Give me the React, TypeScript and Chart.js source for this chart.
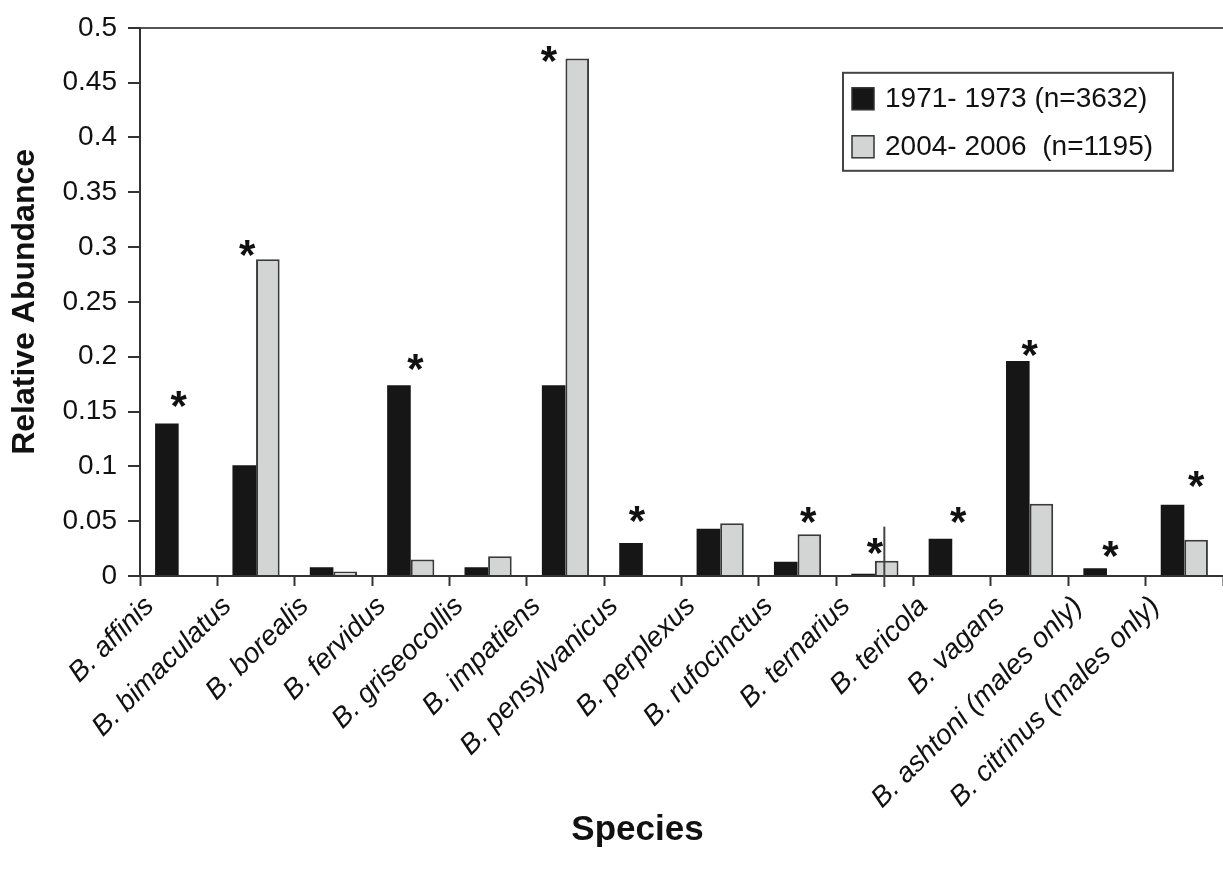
import React, { useEffect, useRef } from "react";
import { Chart, registerables } from "chart.js";

Chart.register(...registerables);

const FONT = '"Liberation Sans", Arial, Helvetica, sans-serif';

const species = [
  "B. affinis",
  "B. bimaculatus",
  "B. borealis",
  "B. fervidus",
  "B. griseocollis",
  "B. impatiens",
  "B. pensylvanicus",
  "B. perplexus",
  "B. rufocinctus",
  "B. ternarius",
  "B. tericola",
  "B. vagans",
  "B. ashtoni (males only)",
  "B. citrinus (males only)",
];

const seriesLabels = ["1971- 1973 (n=3632)", "2004- 2006  (n=1195)"];

const abundance1971 = [0.139, 0.101, 0.008, 0.174, 0.008, 0.174, 0.03, 0.043, 0.013, 0.002, 0.034, 0.196, 0.007, 0.065];
const abundance2004 = [0, 0.289, 0.004, 0.015, 0.018, 0.472, 0, 0.048, 0.038, 0.014, 0, 0.066, 0, 0.033];

// significance asterisks: level (in abundance units) and horizontal shift in half-bar units
const starLevel = [0.164, 0.302, null, 0.1975, null, 0.479, 0.059, null, 0.058, 0.03, 0.058, 0.211, 0.027, 0.0915];
const starShift = [0, -0.75, 0, 0.4, 0, -1.4, -0.5, 0, 0.9, 0, 0.5, 0, 0.3, 1];

// stray vertical rule seen over B. ternarius
const ruleCategory = 9;
const ruleTop = 0.045;
const ruleShift = 0.8;

const yMin = 0;
const yMax = 0.5;
const yStep = 0.05;

const xTitle = "Species";
const yTitle = "Relative Abundance";

const starsPlugin = {
  id: "stars",
  afterDatasetsDraw(chart: any) {
    const { ctx } = chart;
    const x = chart.scales.x;
    const y = chart.scales.y;
    const meta = chart.getDatasetMeta(0);
    const size = 42;
    ctx.save();
    ctx.fillStyle = "#111";
    ctx.font = `bold ${size}px ${FONT}`;
    ctx.textAlign = "center";
    ctx.textBaseline = "alphabetic";
    starLevel.forEach((lvl, i) => {
      if (lvl == null) return;
      const bw = meta.data[i].width;
      const cx = x.getPixelForValue(i) + (starShift[i] * bw) / 2;
      const cy = y.getPixelForValue(lvl);
      ctx.fillText("*", cx, cy + 0.57 * size);
    });
    // stray rule
    const bw = meta.data[ruleCategory].width;
    const rx = x.getPixelForValue(ruleCategory) + (ruleShift * bw) / 2;
    ctx.strokeStyle = "#444";
    ctx.lineWidth = 2;
    ctx.beginPath();
    ctx.moveTo(rx, y.getPixelForValue(ruleTop));
    ctx.lineTo(rx, y.getPixelForValue(0) + 11);
    ctx.stroke();
    ctx.restore();
  },
};

const legendPlugin = {
  id: "boxLegend",
  afterDraw(chart: any) {
    const { ctx, chartArea } = chart;
    const w = 330;
    const h = 98;
    const left = chartArea.right - 50 - w;
    const top = chartArea.top + 45;
    ctx.save();
    ctx.fillStyle = "#fff";
    ctx.fillRect(left, top, w, h);
    ctx.strokeStyle = "#444";
    ctx.lineWidth = 2;
    ctx.strokeRect(left, top, w, h);
    chart.data.datasets.forEach((ds: any, i: number) => {
      const cy = top + 26 + i * 48;
      ctx.fillStyle = ds.backgroundColor;
      ctx.fillRect(left + 9, cy - 11, 22, 22);
      ctx.strokeStyle = "#333";
      ctx.lineWidth = 1.5;
      ctx.strokeRect(left + 9, cy - 11, 22, 22);
      ctx.fillStyle = "#111";
      ctx.font = `28px ${FONT}`;
      ctx.textAlign = "left";
      ctx.textBaseline = "middle";
      ctx.fillText(ds.label, left + 42, cy);
    });
    // x-axis title
    ctx.fillStyle = "#111";
    ctx.font = `bold 35px ${FONT}`;
    ctx.textAlign = "center";
    ctx.textBaseline = "middle";
    ctx.fillText(xTitle, (chartArea.left + chartArea.right) / 2 - 44, 830);
    ctx.restore();
  },
};

export default function App() {
  const ref = useRef<HTMLCanvasElement | null>(null);

  useEffect(() => {
    if (!ref.current) return;
    const chart = new Chart(ref.current, {
      type: "bar",
      data: {
        labels: species,
        datasets: [
          {
            label: seriesLabels[0],
            data: abundance1971,
            backgroundColor: "#161616",
            borderWidth: 0,
            categoryPercentage: 0.61,
            barPercentage: 1,
          },
          {
            label: seriesLabels[1],
            data: abundance2004,
            backgroundColor: "#d3d5d4",
            borderColor: "#3a3a3a",
            borderWidth: (c: any) => (c.raw > 0 ? 2 : 0),
            categoryPercentage: 0.61,
            barPercentage: 1,
          },
        ],
      },
      options: {
        responsive: false,
        animation: false,
        devicePixelRatio: 1,
        layout: { padding: { top: 24, right: 0, bottom: 0, left: 0 } },
        plugins: {
          legend: { display: false },
          tooltip: { enabled: false },
        },
        scales: {
          x: {
            offset: true,
            afterFit: (s: any) => {
              s.height = 294;
            },
            grid: {
              display: true,
              offset: true,
              drawOnChartArea: false,
              drawTicks: true,
              tickLength: 10,
              tickColor: "#333",
              tickWidth: 2,
            },
            border: { display: true, color: "#333", width: 2 },
            ticks: {
              autoSkip: false,
              minRotation: 45,
              maxRotation: 45,
              padding: 4,
              labelOffset: -29,
              color: "#111",
              font: { family: FONT, size: 28, style: "italic" },
            },
          },
          y: {
            min: yMin,
            max: yMax,
            afterFit: (s: any) => {
              s.width = 140;
            },
            grid: {
              drawOnChartArea: true,
              color: (c: any) => (c.tick && Math.abs(c.tick.value - yMax) < 1e-9 ? "#555" : "rgba(0,0,0,0)"),
              lineWidth: 2,
              tickColor: "#333",
              tickLength: 12,
              tickWidth: 2,
            },
            border: { display: true, color: "#333", width: 2 },
            ticks: {
              stepSize: yStep,
              padding: 11,
              color: "#111",
              font: { family: FONT, size: 28 },
              callback: (v: any) => String(Number(Number(v).toFixed(2))),
            },
            title: {
              display: true,
              text: yTitle,
              color: "#111",
              font: { family: FONT, size: 32, weight: "bold" },
              padding: { top: 6, bottom: 0 },
            },
          },
        },
      },
      plugins: [starsPlugin, legendPlugin],
    });
    return () => chart.destroy();
  }, []);

  return (
    <div style={{ position: "fixed", left: 0, top: 0, width: 1223, height: 870, background: "#fff" }}>
      <canvas ref={ref} width={1223} height={870} style={{ display: "block" }} />
    </div>
  );
}
